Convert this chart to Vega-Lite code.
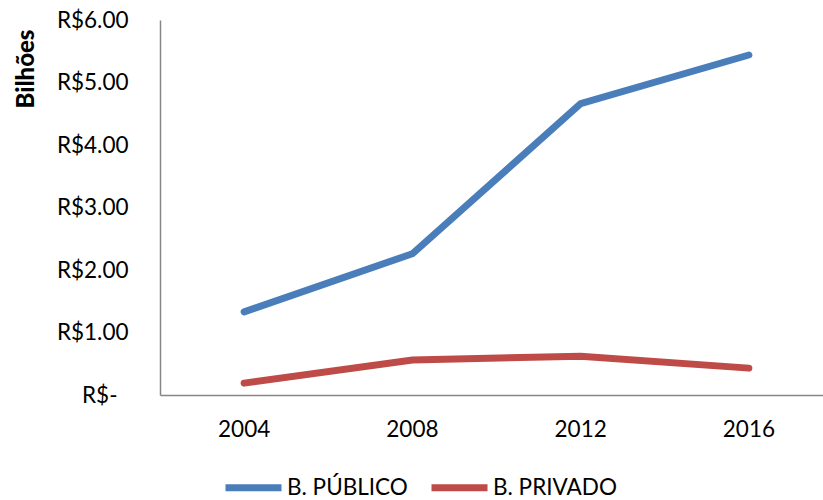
{
  "$schema": "https://vega.github.io/schema/vega-lite/v6.json",
  "width": 673,
  "height": 375,
  "autosize": {"type": "none"},
  "padding": {"left": 160, "top": 20, "right": 0, "bottom": 105},
  "background": "white",
  "config": {
    "view": {"stroke": null},
    "font": "Lato",
    "axis": {"labelFont": "Lato", "labelFontSize": 22.5, "labelColor": "#000000", "titleFont": "Lato"},
    "legend": {"labelFont": "Lato", "labelFontSize": 22.5, "labelColor": "#000000"}
  },
  "data": {
    "values": [
      {"year": "2004", "sector": "B. PÚBLICO", "value": 1.33},
      {"year": "2008", "sector": "B. PÚBLICO", "value": 2.26},
      {"year": "2012", "sector": "B. PÚBLICO", "value": 4.66},
      {"year": "2016", "sector": "B. PÚBLICO", "value": 5.44},
      {"year": "2004", "sector": "B. PRIVADO", "value": 0.19},
      {"year": "2008", "sector": "B. PRIVADO", "value": 0.56},
      {"year": "2012", "sector": "B. PRIVADO", "value": 0.62},
      {"year": "2016", "sector": "B. PRIVADO", "value": 0.43}
    ]
  },
  "mark": {"type": "line", "strokeWidth": 7, "strokeCap": "round", "strokeJoin": "miter"},
  "encoding": {
    "x": {
      "field": "year", "type": "ordinal",
      "scale": {"type": "band", "paddingInner": 0, "paddingOuter": 0},
      "axis": {"title": null, "labelAngle": 0, "ticks": false, "grid": false, "domainColor": "#868686", "domainWidth": 1.5, "labelPadding": 23}
    },
    "y": {
      "field": "value", "type": "quantitative",
      "scale": {"domain": [0, 6], "nice": false},
      "axis": {
        "title": "Bilhões", "titleFontSize": 24, "titleFontWeight": 900, "titleColor": "#000000",
        "titleAnchor": "end", "titlePadding": 18, "titleY": 9, "titleAlign": "right",
        "values": [0, 1, 2, 3, 4, 5, 6],
        "labelExpr": "datum.value == 0 ? 'R$-' : 'R$' + format(datum.value, '.2f')",
        "ticks": false, "grid": false, "domainColor": "#868686", "domainWidth": 1.5,
        "labelPadding": {"condition": {"test": "datum.value == 0", "value": 43}, "value": 32}
      }
    },
    "color": {
      "field": "sector", "type": "nominal",
      "scale": {"domain": ["B. PÚBLICO", "B. PRIVADO"], "range": ["#4A7EBB", "#BE4B48"]},
      "legend": {
        "title": null, "orient": "none", "direction": "horizontal",
        "legendX": 62, "legendY": 436,
        "symbolType": "stroke", "symbolStrokeWidth": 7, "symbolSize": 3136,
        "labelOffset": 2, "columnPadding": 9
      }
    }
  }
}
